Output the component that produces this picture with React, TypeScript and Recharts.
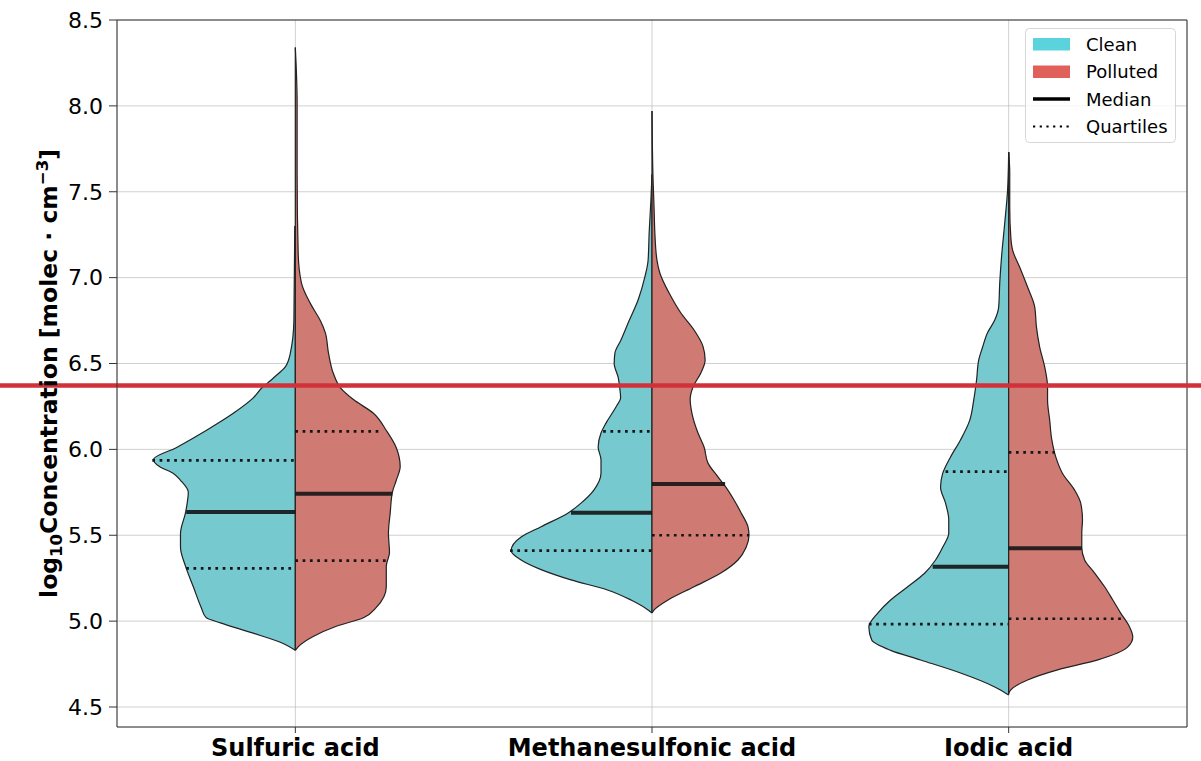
import React from 'react';
import { ComposedChart, Area, XAxis, YAxis, CartesianGrid, ReferenceLine } from 'recharts';

const acids = ['Sulfuric acid', 'Methanesulfonic acid', 'Iodic acid'];
const yTicks = [4.5, 5.0, 5.5, 6.0, 6.5, 7.0, 7.5, 8.0, 8.5];
const threshold = 6.372;

// [log10 concentration, half width of the violin (category units)]
const sulfuricClean: [number, number][] = [
  [4.83, 0], [4.87, 0.034], [4.93, 0.118], [4.99, 0.21], [5.02, 0.25], [5.08, 0.264],
  [5.2, 0.286], [5.32, 0.308], [5.43, 0.322], [5.51, 0.322], [5.63, 0.308], [5.69, 0.303],
  [5.75, 0.3], [5.82, 0.322], [5.86, 0.342], [5.9, 0.381], [5.94, 0.398], [6.01, 0.334],
  [6.11, 0.25], [6.21, 0.174], [6.3, 0.118], [6.36, 0.093], [6.4, 0.07], [6.44, 0.048],
  [6.48, 0.028], [6.56, 0.014], [6.75, 0.004], [7.3, 0.0015],
];
const sulfuricPolluted: [number, number][] = [
  [4.83, 0], [4.85, 0.008], [4.91, 0.05], [4.97, 0.115], [5.02, 0.191], [5.08, 0.227],
  [5.2, 0.255], [5.32, 0.255], [5.4, 0.264], [5.51, 0.261], [5.63, 0.266], [5.75, 0.272],
  [5.82, 0.283], [5.9, 0.294], [6.01, 0.283], [6.11, 0.255], [6.21, 0.219], [6.29, 0.163],
  [6.36, 0.126], [6.44, 0.107], [6.56, 0.093], [6.68, 0.084], [6.75, 0.07], [6.85, 0.042],
  [6.97, 0.017], [7.14, 0.008], [7.6, 0.005], [8.02, 0.005], [8.34, 0],
];
const msaClean: [number, number][] = [
  [5.047, 0], [5.065, 0.011], [5.123, 0.059], [5.18, 0.123], [5.24, 0.227], [5.3, 0.311],
  [5.356, 0.367], [5.41, 0.395], [5.49, 0.367], [5.55, 0.311], [5.63, 0.235], [5.687, 0.199],
  [5.763, 0.163], [5.862, 0.143], [5.94, 0.143], [6.014, 0.151], [6.095, 0.143], [6.153, 0.129],
  [6.247, 0.101], [6.3, 0.088], [6.35, 0.09], [6.42, 0.095], [6.5, 0.106], [6.56, 0.104],
  [6.637, 0.087], [6.75, 0.064], [6.87, 0.039], [7.004, 0.02], [7.1, 0.011], [7.26, 0.008],
  [7.452, 0.003], [7.6, 0],
];
const msaPolluted: [number, number][] = [
  [5.047, 0], [5.065, 0.006], [5.123, 0.045], [5.2, 0.118], [5.28, 0.193], [5.356, 0.241],
  [5.43, 0.264], [5.5, 0.272], [5.55, 0.269], [5.63, 0.25], [5.705, 0.23], [5.78, 0.207],
  [5.84, 0.185], [5.92, 0.157], [6.014, 0.146], [6.095, 0.129], [6.21, 0.112], [6.29, 0.107],
  [6.363, 0.115], [6.445, 0.137], [6.52, 0.149], [6.6, 0.143], [6.695, 0.118], [6.794, 0.081],
  [6.91, 0.048], [7.027, 0.022], [7.1, 0.014], [7.26, 0.008], [7.394, 0.006], [7.57, 0.003],
  [7.97, 0],
];
const iodicClean: [number, number][] = [
  [4.57, 0], [4.617, 0.039], [4.698, 0.135], [4.774, 0.247], [4.83, 0.331], [4.89, 0.384],
  [4.966, 0.392], [5.047, 0.367], [5.123, 0.331], [5.2, 0.283], [5.28, 0.235], [5.356, 0.205],
  [5.43, 0.185], [5.513, 0.168], [5.59, 0.168], [5.687, 0.177], [5.78, 0.191], [5.86, 0.185],
  [5.956, 0.163], [6.055, 0.135], [6.17, 0.109], [6.287, 0.098], [6.404, 0.09], [6.52, 0.084],
  [6.596, 0.073], [6.68, 0.059], [6.753, 0.039], [6.83, 0.028], [6.97, 0.025], [7.12, 0.02],
  [7.318, 0.011], [7.51, 0.003], [7.73, 0],
];
const iodicPolluted: [number, number][] = [
  [4.58, 0], [4.6, 0.006], [4.657, 0.053], [4.716, 0.137], [4.774, 0.25], [4.85, 0.334],
  [4.908, 0.348], [4.966, 0.339], [5.047, 0.314], [5.123, 0.292], [5.2, 0.269], [5.28, 0.241],
  [5.356, 0.213], [5.43, 0.205], [5.513, 0.205], [5.59, 0.207], [5.687, 0.202], [5.763, 0.185],
  [5.86, 0.151], [5.956, 0.132], [6.055, 0.121], [6.17, 0.115], [6.287, 0.109], [6.363, 0.109],
  [6.48, 0.101], [6.596, 0.087], [6.71, 0.078], [6.83, 0.073], [6.945, 0.053], [7.06, 0.031],
  [7.16, 0.011], [7.236, 0.006], [7.41, 0.003], [7.61, 0.003], [7.73, 0],
];

// medians and quartiles, with the violin half width at that level
const cleanMedian: [number, number][] = [[5.635, 0.306], [5.631, 0.227], [5.317, 0.213]];
const pollutedMedian: [number, number][] = [[5.742, 0.272], [5.798, 0.205], [5.424, 0.205]];
const cleanQuartiles: [number, number][] = [
  [5.307, 0.306], [5.936, 0.401], [5.41, 0.398], [6.105, 0.137], [4.983, 0.392], [5.87, 0.177],
];
const pollutedQuartiles: [number, number][] = [
  [5.352, 0.255], [6.105, 0.238], [5.5, 0.272], [6.372, 0.115], [5.014, 0.32], [5.983, 0.129],
];

const cleanShapes = [sulfuricClean, msaClean, iodicClean];
const pollutedShapes = [sulfuricPolluted, msaPolluted, iodicPolluted];

const CLEAN_FILL = '#76c9cf';
const POLLUTED_FILL = '#d07a74';
const CLEAN_LEGEND = '#5ad3dc';
const POLLUTED_LEGEND = '#e0605a';
const EDGE = '#222222';

const toRows = (shape: [number, number][], center: number, side: number) =>
  shape.map(([y, w]) => ({ y, v: [center, center + side * w] }));

const YLabel = (props: any) => {
  const vb = props.viewBox || { y: 20, height: 707 };
  const cy = vb.y + vb.height / 2;
  return (
    <text
      transform={`translate(57,${cy}) rotate(-90)`}
      textAnchor="middle"
      fontSize={23.5}
      fontWeight="bold"
      fill="#000"
    >
      log<tspan fontSize={16.5} dy={5}>10</tspan>
      <tspan dy={-5}>Concentration [molec · cm</tspan>
      <tspan fontSize={16.5} dy={-9}>−3</tspan>
      <tspan dy={9}>]</tspan>
    </text>
  );
};

const LegendBox = () => (
  <svg width={1201} height={761} style={{ position: 'absolute', left: 0, top: 0, pointerEvents: 'none' }}>
    <rect x={1025.5} y={28.5} width={150} height={114} rx={4} fill="#fff" fillOpacity={0.8} stroke="#d6d6d6" />
    <rect x={1033} y={38} width={37} height={12.5} fill={CLEAN_LEGEND} />
    <text x={1086} y={50.5} fontSize={18} fill="#000">Clean</text>
    <rect x={1033} y={65.5} width={37} height={12.5} fill={POLLUTED_LEGEND} />
    <text x={1086} y={78} fontSize={18} fill="#000">Polluted</text>
    <line x1={1033} x2={1070} y1={99} y2={99} stroke="#000" strokeWidth={3.5} />
    <text x={1086} y={105.5} fontSize={18} fill="#000">Median</text>
    <line x1={1033} x2={1070} y1={126.5} y2={126.5} stroke="#000" strokeWidth={2} strokeDasharray="2.2 4.5" />
    <text x={1086} y={132.5} fontSize={18} fill="#000">Quartiles</text>
  </svg>
);

export default function App() {
  return (
    <div style={{ position: 'absolute', left: 0, top: 0, width: 1201, height: 761, background: '#fff', fontFamily: '"DejaVu Sans", sans-serif' }}>
      <ComposedChart layout="vertical" width={1201} height={761} margin={{ top: 20, right: 14, bottom: 0, left: 0 }}>
        <XAxis
          type="number"
          domain={[-0.5, 2.5]}
          allowDataOverflow
          ticks={[0, 1, 2]}
          tickFormatter={(v: number) => acids[v]}
          height={34}
          tickSize={6}
          tickMargin={6}
          stroke="#333"
          tick={{ fontSize: 24, fontWeight: 'bold', fill: '#000' }}
        />
        <YAxis
          type="number"
          dataKey="y"
          reversed
          domain={[4.3836, 8.5]}
          allowDataOverflow
          ticks={yTicks}
          tickFormatter={(v: number) => v.toFixed(1)}
          width={117}
          tickSize={8}
          tickMargin={6}
          stroke="#333"
          tick={{ fontSize: 22, fill: '#000' }}
          label={{ content: YLabel }}
        />
        {cleanShapes.map((s, i) => (
          <Area
            key={'clean' + i}
            data={toRows(s, i, -1)}
            dataKey="v"
            type="monotone"
            fill={CLEAN_FILL}
            fillOpacity={1}
            stroke={EDGE}
            strokeWidth={1.2}
            dot={false}
            activeDot={false}
            isAnimationActive={false}
          />
        ))}
        {pollutedShapes.map((s, i) => (
          <Area
            key={'polluted' + i}
            data={toRows(s, i, 1)}
            dataKey="v"
            type="monotone"
            fill={POLLUTED_FILL}
            fillOpacity={1}
            stroke={EDGE}
            strokeWidth={1.2}
            dot={false}
            activeDot={false}
            isAnimationActive={false}
          />
        ))}
        <CartesianGrid stroke="#b0b0b0" strokeOpacity={0.6} />
        {cleanMedian.map(([y, w], i) => (
          <ReferenceLine key={'cm' + i} segment={[{ x: i, y }, { x: i - w, y }]} stroke="#151515" strokeOpacity={0.9} strokeWidth={4} />
        ))}
        {pollutedMedian.map(([y, w], i) => (
          <ReferenceLine key={'pm' + i} segment={[{ x: i, y }, { x: i + w, y }]} stroke="#151515" strokeOpacity={0.9} strokeWidth={4} />
        ))}
        {cleanQuartiles.map(([y, w], k) => {
          const i = Math.floor(k / 2);
          return (
            <ReferenceLine key={'cq' + k} segment={[{ x: i - w, y }, { x: i, y }]} stroke="#151515" strokeWidth={2.7} strokeDasharray="2.7 4.6" />
          );
        })}
        {pollutedQuartiles.map(([y, w], k) => {
          const i = Math.floor(k / 2);
          return (
            <ReferenceLine key={'pq' + k} segment={[{ x: i, y }, { x: i + w, y }]} stroke="#151515" strokeWidth={2.7} strokeDasharray="2.7 4.6" />
          );
        })}
        <ReferenceLine y={8.5} stroke="#333" />
        <ReferenceLine x={2.5} stroke="#333" />
        <ReferenceLine
          segment={[{ x: -1, y: threshold }, { x: 3, y: threshold }]}
          ifOverflow="visible"
          stroke="#d1323a"
          strokeWidth={4.5}
        />
      </ComposedChart>
      <LegendBox />
    </div>
  );
}
